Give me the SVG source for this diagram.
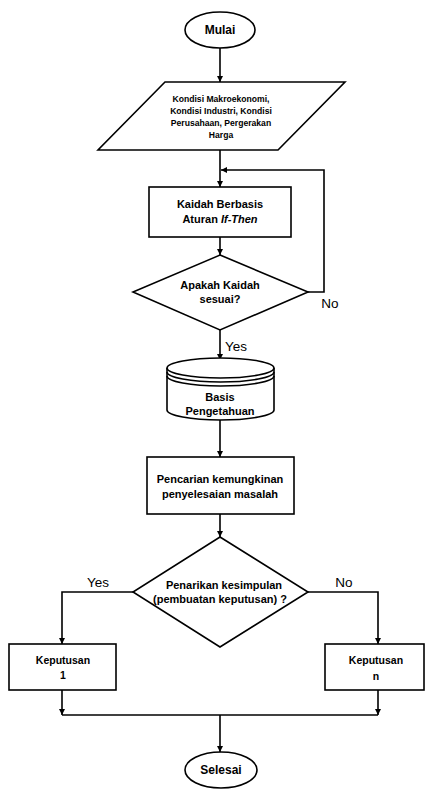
<svg xmlns="http://www.w3.org/2000/svg" width="426" height="790" viewBox="0 0 426 790">
  <style>
    .shape { fill: #ffffff; stroke: #000000; stroke-width: 1.6; }
    .line { fill: none; stroke: #000000; stroke-width: 1.6; }
    .t { font-family: "Liberation Sans", Arial, sans-serif; fill: #000000; text-anchor: middle; font-weight: bold; }
    .sm { font-size: 8.6px; }
    .md { font-size: 11px; }
    .kp { font-size: 10.5px; }
    .term { font-size: 12px; }
    .lbl { font-size: 13.5px; font-weight: normal; }
  </style>
  <defs>
    <marker id="arrow" viewBox="0 0 10 10" refX="10" refY="5" markerWidth="6" markerHeight="6" markerUnits="userSpaceOnUse" orient="auto">
      <path d="M0,0 L10,5 L0,10 z" fill="#000000"/>
    </marker>
  </defs>
  <rect width="426" height="790" fill="#ffffff"/>

  <!-- connectors -->
  <g id="connectors">
    <line class="line" x1="220" y1="48" x2="220" y2="82" marker-end="url(#arrow)"/>
    <line class="line" x1="220" y1="150" x2="220" y2="187" marker-end="url(#arrow)"/>
    <line class="line" x1="220" y1="237" x2="220" y2="255" marker-end="url(#arrow)"/>
    <!-- "No" loop back to the rule step -->
    <polyline class="line" points="308,292 324,292 324,170 221,170" marker-end="url(#arrow)"/>
    <line class="line" x1="220" y1="330" x2="220" y2="360" marker-end="url(#arrow)"/>
    <line class="line" x1="220" y1="420" x2="220" y2="457" marker-end="url(#arrow)"/>
    <line class="line" x1="220" y1="514" x2="220" y2="537" marker-end="url(#arrow)"/>
    <polyline class="line" points="133,592 62,592 62,644" marker-end="url(#arrow)"/>
    <polyline class="line" points="308,592 378,592 378,644" marker-end="url(#arrow)"/>
    <line class="line" x1="62" y1="690" x2="62" y2="715" marker-end="url(#arrow)"/>
    <line class="line" x1="378" y1="690" x2="378" y2="715" marker-end="url(#arrow)"/>
    <line class="line" x1="62" y1="715" x2="378" y2="715"/>
    <line class="line" x1="220" y1="715" x2="220" y2="752" marker-end="url(#arrow)"/>
    <text class="t lbl" x="330" y="308">No</text>
    <text class="t lbl" x="236" y="351">Yes</text>
    <text class="t lbl" x="98" y="587">Yes</text>
    <text class="t lbl" x="344" y="587">No</text>
  </g>

  <g id="mulai">
    <ellipse class="shape" cx="220" cy="30" rx="35" ry="18"/>
    <text class="t term" x="220" y="34">Mulai</text>
  </g>

  <g id="input">
    <polygon class="shape" points="165,82 345,82 278,150 98,150"/>
    <text class="t sm" x="221" y="102">Kondisi Makroekonomi,</text>
    <text class="t sm" x="221" y="114">Kondisi Industri, Kondisi</text>
    <text class="t sm" x="221" y="126">Perusahaan, Pergerakan</text>
    <text class="t sm" x="221" y="138">Harga</text>
  </g>

  <g id="kaidah">
    <rect class="shape" x="149" y="187" width="142" height="50"/>
    <text class="t md" x="220" y="208">Kaidah Berbasis</text>
    <text class="t md" x="220" y="223">Aturan <tspan font-style="italic">If-Then</tspan></text>
  </g>

  <g id="cek-kaidah">
    <polygon class="shape" points="220,255 308,292 220,330 133,292"/>
    <text class="t md" x="220" y="289">Apakah Kaidah</text>
    <text class="t md" x="220" y="303">sesuai?</text>
  </g>

  <g id="basis-pengetahuan">
    <path class="shape" d="M167,368 L167,410 A53.5,10 0 0 0 274,410 L274,368"/>
    <ellipse class="shape" cx="220.5" cy="368" rx="53.5" ry="10"/>
    <path class="line" d="M167,372 A53.5,10 0 0 0 274,372"/>
    <path class="line" d="M167,376 A53.5,10 0 0 0 274,376"/>
    <text class="t md" x="220" y="401">Basis</text>
    <text class="t md" x="220" y="415">Pengetahuan</text>
  </g>

  <g id="pencarian">
    <rect class="shape" x="147" y="457" width="147" height="57"/>
    <text class="t md" x="220" y="483">Pencarian kemungkinan</text>
    <text class="t md" x="220" y="498">penyelesaian masalah</text>
  </g>

  <g id="kesimpulan">
    <polygon class="shape" points="220,537 308,592 220,647 133,592"/>
    <text class="t md" x="224" y="589">Penarikan kesimpulan</text>
    <text class="t md" x="220" y="603">(pembuatan keputusan) ?</text>
  </g>

  <g id="keputusan-1">
    <rect class="shape" x="9" y="644" width="107" height="46"/>
    <text class="t kp" x="63" y="664">Keputusan</text>
    <text class="t kp" x="63" y="679">1</text>
  </g>

  <g id="keputusan-n">
    <rect class="shape" x="325" y="644" width="99" height="46"/>
    <text class="t kp" x="376" y="664">Keputusan</text>
    <text class="t kp" x="376" y="680">n</text>
  </g>

  <g id="selesai">
    <ellipse class="shape" cx="221" cy="770" rx="36" ry="18"/>
    <text class="t term" x="221" y="774">Selesai</text>
  </g>
</svg>
